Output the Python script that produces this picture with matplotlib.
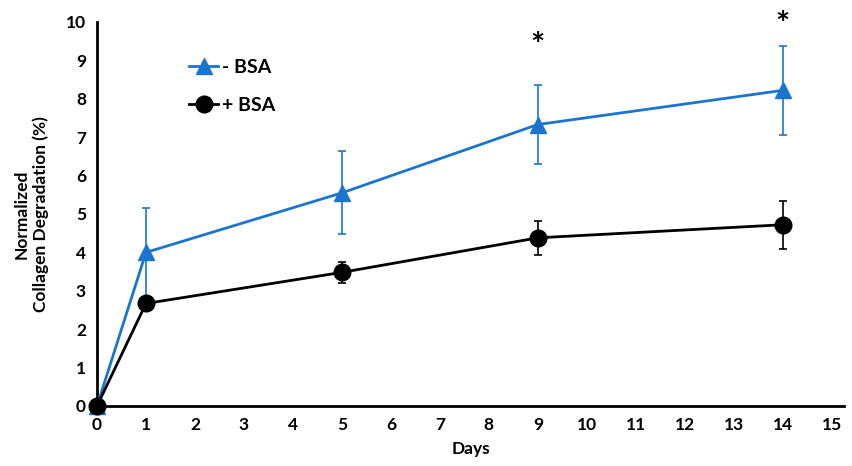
import matplotlib
matplotlib.use("Agg")
import matplotlib.pyplot as plt
from matplotlib.lines import Line2D

days = [0, 1, 5, 9, 14]
minus_bsa = [0.0, 4.0, 5.55, 7.33, 8.22]
minus_bsa_err = [0.0, 1.15, 1.08, 1.04, 1.15]
plus_bsa = [0.0, 2.67, 3.48, 4.38, 4.72]
plus_bsa_err = [0.0, 0.0, 0.28, 0.44, 0.63]
star_days = [9, 14]
star_y = [9.35, 9.9]
xticks = list(range(0, 16))
yticks = list(range(0, 11))

plt.rcParams['font.family'] = ['Lato', 'DejaVu Sans']
plt.rcParams['font.weight'] = 'bold'

fig = plt.figure(figsize=(8.53, 4.66), dpi=100)
ax = fig.add_axes([97/853, 60/466, 747/853, 384/466])

blue = '#1B75CF'
ax.errorbar(days, minus_bsa, yerr=minus_bsa_err, color=blue, lw=2, marker='^',
            markersize=11, capsize=3, elinewidth=1.2, capthick=1.2,
            clip_on=False, zorder=3)
ax.errorbar(days, plus_bsa, yerr=plus_bsa_err, color='black', lw=2, marker='o',
            markersize=12, capsize=3, elinewidth=1.2, capthick=1.2,
            clip_on=False, zorder=4)

for d, y in zip(star_days, star_y):
    ax.text(d, y, '*', ha='center', va='center', fontsize=24, fontweight='bold')

ax.set_xlim(0, 15.25)
ax.set_ylim(0, 10)
ax.set_xticks(xticks)
ax.set_yticks(yticks)
ax.tick_params(length=0, labelsize=12.5, pad=8)
for lab in ax.get_xticklabels() + ax.get_yticklabels():
    lab.set_fontweight('bold')
for s in ['top', 'right']:
    ax.spines[s].set_visible(False)
for s in ['left', 'bottom']:
    ax.spines[s].set_linewidth(2)

ax.set_xlabel('Days', fontsize=12.5, fontweight='bold', labelpad=6)
ax.set_ylabel('Normalized\nCollagen Degradation (%)', fontsize=12.5,
              fontweight='bold', labelpad=12)

handles = [
    Line2D([], [], color=blue, lw=2, marker='^', markersize=11),
    Line2D([], [], color='black', lw=2, marker='o', markersize=12),
]
leg = ax.legend(handles, ['- BSA', '+ BSA'], loc='upper left',
                bbox_to_anchor=(0.1, 0.95), frameon=False,
                fontsize=14, handlelength=1.5, handletextpad=0.2,
                labelspacing=1.1)
for t in leg.get_texts():
    t.set_fontweight('bold')

fig.savefig('out.png', dpi=100)
